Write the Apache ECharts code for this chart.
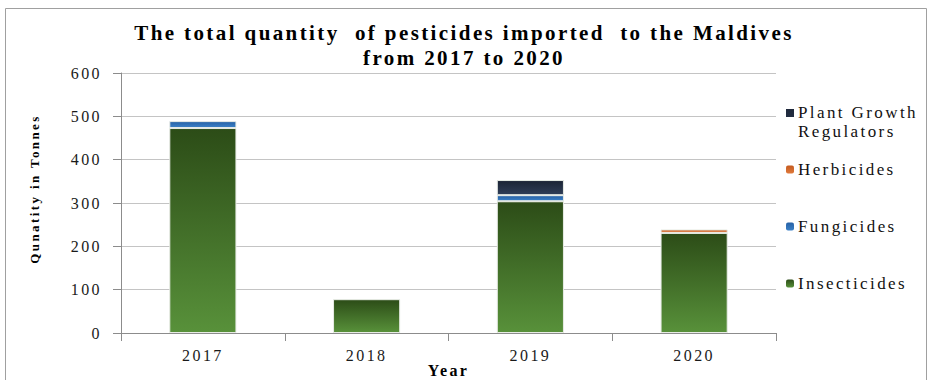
<!DOCTYPE html>
<html>
<head>
<meta charset="utf-8">
<script src="https://cdn.jsdelivr.net/npm/echarts@6/dist/echarts.min.js"></script>
<style>
  html, body { margin: 0; padding: 0; background: #ffffff; }
  #chart { width: 931px; height: 380px; }
  /* Times-style face with loose tracking on all chart text */
  #chart svg text {
    font-family: 'Liberation Serif', 'Times New Roman', serif !important;
    letter-spacing: 2.4px;
  }
</style>
</head>
<body>
<div id="chart"></div>
<script>
// Pesticide imports to the Maldives, tonnes per year
const years = ['2017', '2018', '2019', '2020'];
const insecticides = [473, 78, 304, 231];
const fungicides = [16, null, 14, null];
const herbicides = [null, null, null, 8];
const growthRegulators = [null, null, 35, null];
const yTicks = { min: 0, max: 600, interval: 100 };

const serif = 'Liberation Serif, serif';

function vGrad(top, bottom) {
  return new echarts.graphic.LinearGradient(0, 0, 0, 1, [
    { offset: 0, color: top },
    { offset: 1, color: bottom }
  ]);
}

const colors = {
  insect: vGrad('#2c4c17', '#58913a'),
  fung: vGrad('#2661a6', '#3b80c6'),
  herb: vGrad('#c45a1f', '#e07a3c'),
  pgr: vGrad('#1b2435', '#2f3e58')
};

function makeSeries(name, data, color) {
  return {
    name: name,
    type: 'bar',
    stack: 'total',
    data: data,
    barWidth: '41%',
    itemStyle: { color: color, borderColor: '#e8ece6', borderWidth: 1 },
    emphasis: { disabled: true }
  };
}

// Each legend entry sits on its own row; the two-line entry keeps its swatch on the first line
function legendAt(name, top, opts) {
  return Object.assign({
    orient: 'vertical',
    left: 781,
    top: top,
    data: [name],
    itemWidth: 8,
    itemHeight: 8,
    itemStyle: { borderWidth: 0 },
    selectedMode: false,
    textStyle: { fontFamily: serif, fontSize: 17, color: '#111', lineHeight: 19, padding: [0, 0, 0, -1] }
  }, opts || {});
}

const chart = echarts.init(document.getElementById('chart'), null, { renderer: 'svg' });

chart.setOption({
  animation: false,
  backgroundColor: '#ffffff',
  title: {
    text: 'The total quantity  of pesticides imported  to the Maldives\nfrom 2017 to 2020',
    left: 459,
    textAlign: 'center',
    top: 15,
    textStyle: { fontFamily: serif, fontSize: 21, fontWeight: 'bold', color: '#000', lineHeight: 25 }
  },
  graphic: [
    {
      type: 'polyline',
      shape: { points: [[5.5, 380], [5.5, 8.5], [926.5, 8.5], [926.5, 380]] },
      style: { stroke: '#a0a0a0', lineWidth: 1, fill: null },
      silent: true
    }
  ],
  legend: [
    legendAt('Plant Growth Regulators', 98, {
      itemHeight: 38,
      icon: 'path://M0,0L8,0M0,6L8,6L8,14L0,14ZM0,38L8,38',
      formatter: function () { return 'Plant Growth\nRegulators'; }
    }),
    legendAt('Herbicides', 155),
    legendAt('Fungicides', 212),
    legendAt('Insecticides', 269)
  ],
  grid: { left: 121, right: 155, top: 73, bottom: 47, containLabel: false, outerBoundsMode: 'none' },
  xAxis: {
    type: 'category',
    data: years,
    name: 'Year',
    nameLocation: 'middle',
    nameGap: 29,
    nameMoveOverlap: false,
    nameTextStyle: { fontFamily: serif, fontSize: 16, fontWeight: 'bold', color: '#000' },
    axisLine: { lineStyle: { color: '#8c8c8c', width: 1 } },
    axisTick: { show: true, length: 8, lineStyle: { color: '#8c8c8c' } },
    axisLabel: { fontFamily: serif, fontSize: 16, color: '#1a1a1a', margin: 14 }
  },
  yAxis: {
    type: 'value',
    min: yTicks.min,
    max: yTicks.max,
    interval: yTicks.interval,
    name: 'Qunatity in Tonnes',
    nameLocation: 'middle',
    nameGap: 80,
    nameMoveOverlap: false,
    nameTextStyle: { fontFamily: serif, fontSize: 13, fontWeight: 'bold', color: '#000', padding: [0, 0, 0, 28] },
    axisLine: { show: true, lineStyle: { color: '#8c8c8c', width: 1 } },
    axisTick: { show: true, length: 8, lineStyle: { color: '#8c8c8c' } },
    axisLabel: { fontFamily: serif, fontSize: 16, color: '#1a1a1a', margin: 19 },
    splitLine: { show: true, lineStyle: { color: '#c4c4c4', width: 1 } }
  },
  series: [
    makeSeries('Insecticides', insecticides, colors.insect),
    makeSeries('Fungicides', fungicides, colors.fung),
    makeSeries('Herbicides', herbicides, colors.herb),
    makeSeries('Plant Growth Regulators', growthRegulators, colors.pgr)
  ]
});
</script>
</body>
</html>
